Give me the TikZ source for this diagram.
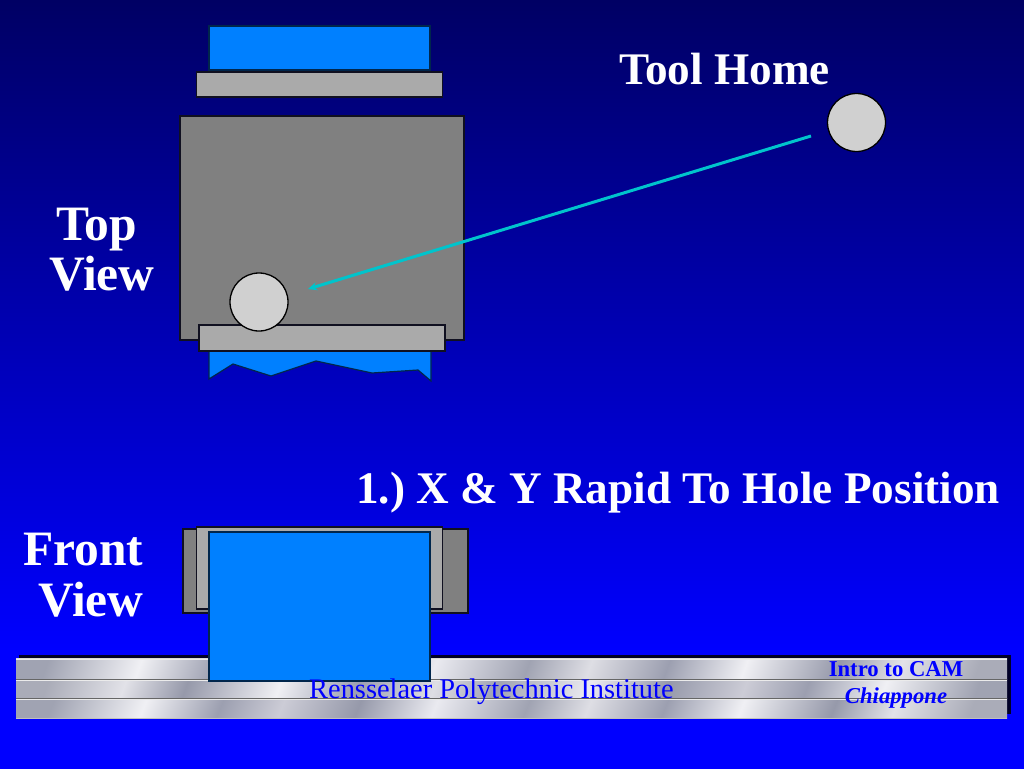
\documentclass[tikz,border=0pt]{standalone}
\usepackage{fontspec}
\setmainfont{Liberation Serif}
\usetikzlibrary{arrows.meta}
\definecolor{bgA}{RGB}{0,0,255}
\definecolor{bgC}{RGB}{0,0,100}
\definecolor{mA}{RGB}{170,172,184}
\definecolor{mB}{RGB}{226,226,232}
\definecolor{mC}{RGB}{150,153,170}
\definecolor{mD}{RGB}{204,204,214}
\definecolor{mE}{RGB}{240,240,244}
\definecolor{mF}{RGB}{156,159,176}
\definecolor{mG}{RGB}{222,222,228}
\definecolor{mH}{RGB}{160,163,178}
\definecolor{mI}{RGB}{234,234,240}
\pgfdeclareverticalshading{bgshade}{100bp}{
  color(0bp)=(bgA);
  color(32.7bp)=(bgA);
  color(75bp)=(bgC);
  color(100bp)=(bgC)}
\pgfdeclareverticalshading{metalshade}{100bp}{
  color(0bp)=(mA);
  color(20bp)=(mA);
  color(25bp)=(mB);
  color(29bp)=(mC);
  color(35bp)=(mE);
  color(40bp)=(mF);
  color(45bp)=(mG);
  color(49bp)=(mH);
  color(55bp)=(mI);
  color(60bp)=(mC);
  color(65bp)=(mD);
  color(69bp)=(mF);
  color(74bp)=(mE);
  color(80bp)=(mH);
  color(100bp)=(mH)}
\definecolor{partblue}{HTML}{0080FF}
\definecolor{bodygray}{HTML}{808080}
\definecolor{plategray}{HTML}{AAAAAA}
\definecolor{toolgray}{HTML}{D0D0D0}
\definecolor{rapid}{HTML}{00C4CC}
\definecolor{edge}{HTML}{101020}
\tikzset{
  x=1pt,y=-1pt,
  part/.style={draw=edge,line width=1.2pt,line join=miter},
  bluepart/.style={part,fill=partblue,draw=black!70!partblue},
  platepart/.style={part,fill=plategray},
  bodypart/.style={part,fill=bodygray},
  toolpart/.style={circle,draw=black,line width=1.3pt,fill=toolgray,inner sep=0pt,minimum size=58pt},
  heading/.style={text=white,font=\bfseries\fontsize{49.5}{56}\selectfont,inner sep=0pt,align=left},
  caption/.style={text=white,font=\bfseries\fontsize{45.2}{52}\selectfont,inner sep=0pt,align=left},
  barlabel/.style={text=blue,inner sep=0pt}
}
\begin{document}
\frenchspacing
\begin{tikzpicture}
\useasboundingbox (0,0) rectangle (1024,768);
\shade[shading=bgshade] (0,0) rectangle (1024,768);
% metal bar
\fill[black!85!blue] (19,654.5) rectangle (1011,714);
\foreach \yA/\yB/\ang in {658/679/70,679/698/250,698/718/68}{
  \shade[shading=metalshade,shading angle=\ang] (16,\yA) rectangle (1007,\yB);
  \draw[white!92!black,line width=1pt] (16,\yA+1) -- (1007,\yA+1);
  \draw[black!60,line width=1pt] (16,\yA) -- (1007,\yA);
}
\draw[white!75!black,line width=1pt] (16,718) -- (1007,718);
\draw[white!85!black,line width=.8pt] (16,658) -- (1007,658);
% top view
\draw[bluepart] (209,26) rectangle (430,70);
\draw[platepart] (196.5,72) rectangle (442.5,97);
\draw[bodypart] (180,116) rectangle (464,340);
\draw[bluepart] (209,351) -- (209,379) -- (233,364) -- (271,376) -- (316,361) -- (372,373) -- (418,370) -- (431,381) -- (431,351) -- cycle;
\draw[platepart] (199,325) rectangle (445,351);
\node[toolpart] (toolpos) at (259,302) {};
\node[toolpart] (toolhome) at (856.5,122.5) {};
\coordinate (rapidstart) at (811,136);
\coordinate (rapidend) at (308,289);
\draw[rapid,line width=3pt,-{Stealth[length=9pt,width=8pt]}] (rapidstart) -- (rapidend);
% front view
\draw[bodypart] (183,529) rectangle (468,613);
\draw[platepart] (196.5,527) rectangle (442.5,609);
\draw[bluepart] (209,532) rectangle (430,681);
% labels
\node[caption,anchor=base west] (toolhomelabel) at (619,84) {Tool Home};
\node[heading,anchor=base west] (toplabel) at (56,240) {Top};
\node[heading,anchor=base west] (topview) at (49,290) {View};
\node[heading,anchor=base west] (frontlabel) at (23,565) {Front};
\node[heading,anchor=base west] (frontview) at (38,616) {View};
\node[caption,anchor=base west] (steplabel) at (356,503) {1.) X \& Y Rapid To Hole Position};
\node[barlabel,anchor=base west,font=\fontsize{28.4}{32}\selectfont] (rpi) at (309,698) {Rensselaer Polytechnic Institute};
\node[barlabel,anchor=base,font=\bfseries\fontsize{22.7}{26}\selectfont] (course) at (896,676) {Intro to CAM};
\node[barlabel,anchor=base,font=\bfseries\itshape\fontsize{22.7}{26}\selectfont] (author) at (896,703) {Chiappone};
\end{tikzpicture}
\end{document}
